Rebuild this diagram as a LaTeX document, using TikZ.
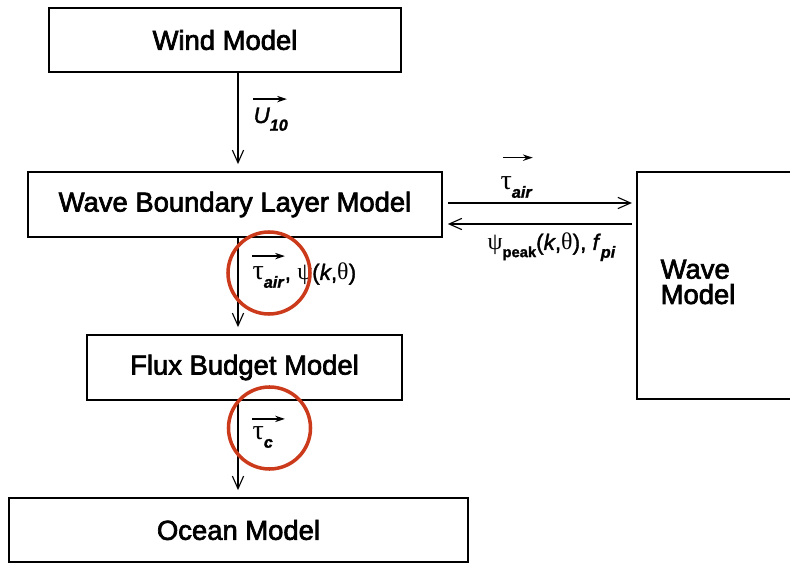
\documentclass[tikz,border=0pt]{standalone}
\usepackage{fontspec}
\setmainfont{Liberation Sans}
\newfontfamily\grk{Liberation Serif}
\newfontfamily\boxface[FakeBold=2.5]{Liberation Sans}
\newfontfamily\lblface[FakeBold=1.5]{Liberation Sans}
\usetikzlibrary{arrows.meta,positioning}
\definecolor{ringred}{RGB}{204,58,28}
\newcommand{\boxfont}{\boxface\fontsize{19.5}{18}\selectfont}
\newcommand{\lblfont}{\lblface\fontsize{16}{16}\selectfont}
\newcommand{\gk}[1]{{\grk\fontsize{20}{20}\selectfont #1}}
\newcommand{\gs}[1]{{\grk\fontsize{17}{17}\selectfont #1}}
\newcommand{\lowsub}[1]{\raisebox{-0.65ex}{\fontsize{11.5}{12}\selectfont\bfseries\itshape #1}}

\begin{document}
\begin{tikzpicture}[x=0.025cm,y=-0.025cm,line width=0.8pt,
    model/.style={draw,line width=1.2pt,inner sep=0pt,font=\boxfont},
    flow/.style={-{Straight Barb[length=9pt,width=8pt]},line width=0.8pt},
    vecarr/.style={-{Stealth[length=7pt,width=4.5pt]},line width=1pt},
    lbl/.style={inner sep=0pt,anchor=base west,font=\lblfont},
    ring/.style={circle,draw=ringred,line width=2.5pt,minimum size=2.05cm,inner sep=0pt}]

    % Frame
    \useasboundingbox (0,0) rectangle (790,563);
    \clip (0,0) rectangle (790,563);

    % Models
    \node[model,minimum width=8.8cm,minimum height=1.6cm]     (wind)  at (225,40)     {Wind Model};
    \node[model,minimum width=10.35cm,minimum height=1.625cm] (wbl)   at (235,204.5)  {Wave Boundary Layer Model};
    \node[model,minimum width=7.875cm,minimum height=1.625cm] (flux)  at (244.5,367.5) {Flux Budget Model};
    \node[model,minimum width=11.475cm,minimum height=1.6cm]  (ocean) at (238.5,530)  {Ocean Model};
    \node[model,minimum width=4.6cm,minimum height=5.675cm]   (wave)  at (729,285.5)  {};
    \node[font=\boxfont,align=left,inner sep=0pt] (wavetext) at (698,282) {Wave\\Model};

    % Vertical flow
    \coordinate (spine) at (238,0);
    \draw[flow,shorten >=5pt] (wind.south -| spine) -- (wbl.north -| spine);
    \draw[flow,shorten >=5pt] (wbl.south -| spine)  -- (flux.north -| spine);
    \draw[flow,shorten >=5pt] (flux.south -| spine) -- (ocean.north -| spine);

    % Exchange with the wave model
    \coordinate (outrow)  at (0,203);
    \coordinate (backrow) at (0,224);
    \draw[flow,shorten <=3.5pt,shorten >=3pt] (wbl.east |- outrow) -- (wave.west |- outrow);
    \draw[flow,shorten <=3pt,shorten >=3.5pt] (wave.west |- backrow) -- (wbl.east |- backrow);

    % Labels
    \node[lbl] (uten) at (253,123) {\itshape U\lowsub{10}};
    \draw[vecarr] ([yshift=17pt]uten.base west) -- ++(34,0);

    \node[lbl] (tauair) at (252,280) {\gk{τ}\lowsub{air}};
    \node[lbl] (psik)   at (tauair.base east) {, \gs{ψ}(\textit{k},\gs{θ})};
    \draw[vecarr] ([yshift=17pt]tauair.base west) -- ++(33,0);

    \node[lbl] (tauc) at (252,440) {\gk{τ}\lowsub{c}};
    \draw[vecarr] ([yshift=15pt]tauc.base west) -- ++(33,0);

    \node[lbl] (tauout) at (500,190) {\gk{τ}\lowsub{air}};
    \draw[vecarr] ([xshift=2pt,yshift=23pt]tauout.base west) -- ++(30,0);

    \node[lbl] (psipeak) at (487,250) {\gs{ψ}\raisebox{-0.6ex}{\fontsize{10.5}{10}\selectfont\bfseries peak}(\textit{k},\gs{θ}), \textit{f}\lowsub{pi}};

    % Highlights
    \node[ring] (ringair) at (269,273) {};
    \node[ring] (ringc)   at (269.5,428) {};

\end{tikzpicture}
\end{document}
